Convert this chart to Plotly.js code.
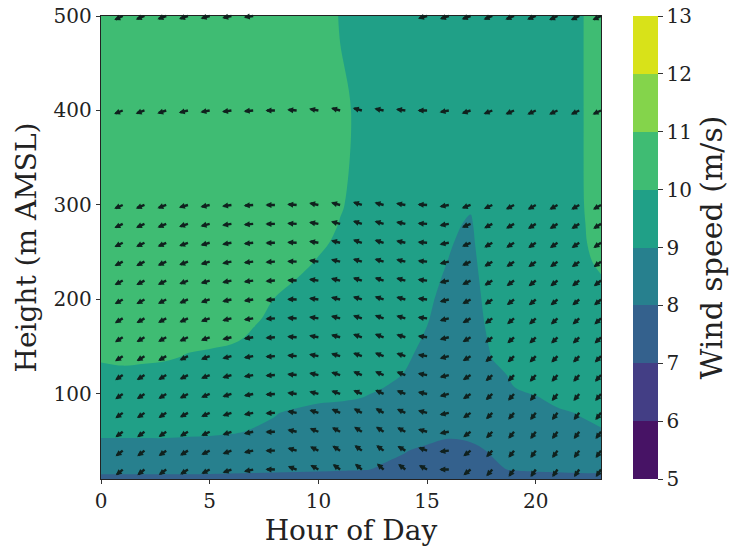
<!DOCTYPE html>
<html>
<head>
<meta charset="utf-8">
<script src="https://cdn.plot.ly/plotly-3.0.1.min.js"></script>
<style>html,body{margin:0;padding:0;background:#fff}#chart{width:736px;height:552px}</style>
</head>
<body>
<div id="chart"></div>
<script>
// ---- contour grid ----
const hours = [0,1,2,3,4,5,6,7,8,9,10,11,12,13,14,15,16,17,18,19,20,21,22,23];
const heights = [10,20,40,60,80,100,120,140,160,180,200,220,240,260,280,300,400,500];

const speed_10m  = [7.8,7.8,7.8,7.8,7.8,7.8,7.78,7.76,7.74,7.72,7.7,7.66,7.6,7.5,7.4,7.3,7.25,7.3,7.4,7.55,7.65,7.7,7.75,7.75];
const speed_20m  = [8.2,8.2,8.2,8.2,8.2,8.18,8.16,8.14,8.12,8.1,8.08,8.05,8.03,7.95,7.85,7.75,7.7,7.75,7.9,8.05,8.1,8.12,8.15,8.15];
const speed_40m  = [8.8,8.8,8.8,8.8,8.78,8.75,8.72,8.65,8.55,8.45,8.35,8.28,8.2,8.1,8.02,7.9,7.8,7.88,8.05,8.2,8.35,8.5,8.6,8.7];
const speed_60m  = [9.1,9.1,9.1,9.1,9.08,9.07,9.04,8.97,8.88,8.75,8.65,8.6,8.55,8.45,8.35,8.22,8.12,8.15,8.3,8.5,8.65,8.78,8.9,8.97];
const speed_80m  = [9.35,9.35,9.33,9.3,9.28,9.25,9.2,9.12,9.03,8.9,8.82,8.85,8.88,8.82,8.75,8.68,8.58,8.5,8.65,8.78,8.88,8.94,9.02,9.1];
const speed_100m = [9.75,9.75,9.72,9.7,9.67,9.63,9.58,9.52,9.42,9.3,9.18,9.1,9.03,8.95,8.88,8.8,8.7,8.62,8.8,8.97,9.01,9.15,9.2,9.25];
const speed_120m = [9.9,9.9,9.88,9.85,9.82,9.78,9.74,9.7,9.65,9.58,9.5,9.4,9.25,9.1,8.98,8.85,8.72,8.65,8.9,9.05,9.15,9.25,9.3,9.35];
const speed_140m = [10.05,10.1,10.08,10.05,9.98,9.95,9.9,9.85,9.8,9.72,9.62,9.52,9.38,9.18,9.06,8.88,8.75,8.68,9.02,9.2,9.25,9.35,9.45,9.5];
const speed_160m = [10.15,10.15,10.15,10.15,10.1,10.08,10.06,9.96,9.88,9.8,9.7,9.6,9.45,9.25,9.1,8.97,8.8,8.7,9.1,9.25,9.3,9.4,9.5,9.6];
const speed_180m = [10.2,10.2,10.2,10.2,10.17,10.13,10.08,10.04,9.94,9.85,9.75,9.65,9.5,9.3,9.12,9.02,8.85,8.7,9.2,9.3,9.35,9.45,9.55,9.7];
const speed_200m = [10.25,10.25,10.25,10.25,10.22,10.2,10.15,10.1,9.99,9.88,9.8,9.7,9.55,9.38,9.2,9.05,8.9,8.75,9.25,9.35,9.4,9.5,9.6,9.8];
const speed_220m = [10.3,10.3,10.3,10.3,10.3,10.25,10.2,10.15,10.1,9.99,9.9,9.8,9.65,9.45,9.25,9.08,8.95,8.8,9.3,9.4,9.45,9.55,9.75,9.95];
const speed_240m = [10.35,10.35,10.35,10.35,10.35,10.3,10.25,10.2,10.15,10.08,9.98,9.85,9.7,9.5,9.3,9.12,8.99,8.85,9.35,9.4,9.45,9.6,9.85,10.1];
const speed_260m = [10.4,10.4,10.4,10.4,10.4,10.35,10.3,10.25,10.2,10.12,10.05,9.95,9.8,9.55,9.35,9.15,9.03,8.9,9.4,9.45,9.5,9.65,9.86,10.25];
const speed_280m = [10.45,10.45,10.45,10.45,10.45,10.4,10.35,10.3,10.25,10.15,10.1,9.99,9.85,9.6,9.4,9.2,9.08,8.95,9.4,9.45,9.55,9.7,9.88,10.3];
const speed_300m = [10.5,10.5,10.5,10.5,10.5,10.45,10.4,10.35,10.3,10.2,10.1,10.02,9.92,9.7,9.5,9.3,9.15,9.05,9.3,9.45,9.55,9.7,9.9,10.35];
const speed_400m = [10.6,10.6,10.6,10.6,10.6,10.55,10.5,10.45,10.4,10.3,10.2,10.05,9.95,9.8,9.7,9.65,9.6,9.6,9.6,9.65,9.7,9.8,9.9,10.4];
const speed_500m = [10.5,10.5,10.5,10.5,10.5,10.45,10.4,10.4,10.35,10.3,10.2,9.98,9.8,9.7,9.65,9.6,9.6,9.6,9.6,9.6,9.65,9.75,9.9,10.4];

const speed = [speed_10m, speed_20m, speed_40m, speed_60m, speed_80m, speed_100m, speed_120m,
  speed_140m, speed_160m, speed_180m, speed_200m, speed_220m, speed_240m, speed_260m,
  speed_280m, speed_300m, speed_400m, speed_500m];

// ---- colour levels ----
const levels = [5,6,7,8,9,10,11,12,13];
const bandColors = ['#471365','#433e85','#34618d','#27808e','#20a087','#3fbc73','#84d44b','#d8e219'];

// ---- wind direction arrows (tilt in degrees: + points down-left, - points up-left) ----
const arrowHours = [1,2,3,4,5,6,7,8,9,10,11,12,13,14,15,16,17,18,19,20,21,22,23];
const arrowHeights = [20,40,60,80,100,120,140,160,180,200,220,240,260,280,300,400,500];
const tilt_20m  = [40,38,36,32,27,20,12,-2,-20,-30,-36,-40,-42,-38,-28,0,38,48,53,55,55,55,55];
const tilt_40m  = [38,37,35,31,26,20,12,0,-16,-26,-32,-36,-36,-31,-20,6,37,47,52,54,54,54,54];
const tilt_60m  = [37,36,34,30,25,19,12,2,-13,-22,-28,-32,-33,-28,-16,10,36,46,51,53,53,53,53];
const tilt_80m  = [36,35,33,29,24,18,11,3,-10,-18,-24,-28,-29,-25,-14,12,35,45,50,52,52,52,52];
const tilt_100m = [35,34,32,28,23,17,11,4,-8,-15,-20,-24,-25,-22,-12,14,34,43,48,50,50,50,50];
const tilt_120m = [34,33,31,27,22,16,10,4,-6,-13,-18,-22,-23,-20,-10,14,33,42,46,48,48,48,48];
const tilt_140m = [33,32,30,26,21,15,10,4,-5,-11,-16,-20,-21,-18,-9,14,32,40,44,46,46,46,46];
const tilt_160m = [32,31,29,25,20,14,9,4,-4,-10,-15,-19,-20,-17,-8,14,31,38,42,44,44,44,44];
const tilt_180m = [31,30,28,24,19,14,9,4,-3,-9,-14,-18,-19,-16,-7,14,30,36,40,42,42,42,42];
const tilt_200m = [30,29,27,23,18,13,9,4,-2,-8,-13,-17,-18,-15,-6,14,28,34,38,40,40,40,40];
const tilt_220m = [29,28,26,22,17,12,8,4,-2,-8,-13,-17,-18,-15,-6,12,26,32,36,38,38,38,38];
const tilt_240m = [28,27,25,21,16,11,7,3,-2,-8,-13,-17,-17,-14,-5,12,25,31,34,36,36,36,36];
const tilt_260m = [27,26,24,20,15,10,6,2,-3,-9,-14,-18,-17,-13,-5,10,24,30,32,34,34,34,34];
const tilt_280m = [26,24,22,18,14,9,5,1,-4,-10,-15,-18,-16,-12,-4,10,22,28,30,32,32,32,32];
const tilt_300m = [24,22,20,16,12,8,4,0,-5,-12,-15,-18,-15,-10,-3,10,20,25,28,30,30,30,30];
const tilt_400m = [22,20,18,14,10,8,5,0,-5,-10,-15,-15,-12,-8,0,10,18,22,24,25,25,25,25];
const tilt_500m = [25,22,20,18,15,12,8,null,null,null,null,null,null,null,15,18,20,22,22,22,25,25,25];
const arrowTilt = [tilt_20m, tilt_40m, tilt_60m, tilt_80m, tilt_100m, tilt_120m, tilt_140m, tilt_160m,
  tilt_180m, tilt_200m, tilt_220m, tilt_240m, tilt_260m, tilt_280m, tilt_300m, tilt_400m, tilt_500m];

// ---- build ----
const colorscale = [];
bandColors.forEach((c, k) => {
  colorscale.push([k / (bandColors.length), c]);
  colorscale.push([(k + 1) / (bandColors.length), c]);
});

const ARROW_PX = 11;
const annotations = [];
arrowHeights.forEach((h, i) => {
  arrowTilt[i].forEach((a, j) => {
    if (a === null) return;
    const r = a * Math.PI / 180;
    annotations.push({
      x: arrowHours[j], y: h, xref: 'x', yref: 'y', text: '',
      showarrow: true, arrowside: 'start',
      ax: -ARROW_PX * Math.cos(r), ay: ARROW_PX * Math.sin(r),
      startarrowhead: 2, startarrowsize: 0.5, arrowwidth: 2.4,
      arrowcolor: '#10211e', standoff: 0, startstandoff: 0
    });
  });
});

const FONT = 'DejaVu Serif, serif';

const trace = {
  type: 'contour',
  x: hours, y: heights, z: speed,
  zmin: levels[0], zmax: levels[levels.length - 1], zauto: false,
  autocontour: false,
  contours: {start: levels[0], end: levels[levels.length - 1], size: 1, coloring: 'fill', showlines: false},
  line: {width: 0, smoothing: 1},
  colorscale: colorscale,
  hoverinfo: 'skip',
  colorbar: {
    x: 1.064, xanchor: 'left', xpad: 0,
    y: 0.5, yanchor: 'middle', len: 1, lenmode: 'fraction', ypad: 0,
    thickness: 25, outlinewidth: 0,
    tickmode: 'array', tickvals: levels,
    ticks: 'outside', ticklen: 5, tickcolor: '#333',
    tickfont: {family: FONT, size: 20, color: '#222'},
    title: {text: 'Wind speed (m/s)', side: 'right', font: {family: FONT, size: 30, color: '#222'}}
  }
};

const layout = {
  width: 736, height: 552,
  margin: {l: 101, r: 135, t: 16, b: 73, autoexpand: false},
  paper_bgcolor: '#ffffff', plot_bgcolor: '#ffffff',
  font: {family: FONT, size: 20, color: '#222'},
  showlegend: false,
  xaxis: {
    range: [0, 23], tickmode: 'array', tickvals: [0,5,10,15,20],
    ticks: 'outside', ticklen: 4, tickcolor: '#333',
    showline: true, linecolor: '#222', linewidth: 1.2, mirror: true,
    showgrid: false, zeroline: false,
    tickfont: {family: FONT, size: 20, color: '#222'},
    title: {text: 'Hour of Day', font: {family: FONT, size: 28, color: '#222'}, standoff: 8}
  },
  yaxis: {
    range: [10, 500], tickmode: 'array', tickvals: [100,200,300,400,500],
    ticks: 'outside', ticklen: 4, tickcolor: '#333',
    showline: true, linecolor: '#222', linewidth: 1.2, mirror: true,
    showgrid: false, zeroline: false,
    tickfont: {family: FONT, size: 20, color: '#222'},
    title: {text: 'Height (m AMSL)', font: {family: FONT, size: 28, color: '#222'}, standoff: 8}
  },
  annotations: annotations
};

Plotly.newPlot('chart', [trace], layout, {displayModeBar: false, staticPlot: true});
</script>
</body>
</html>
